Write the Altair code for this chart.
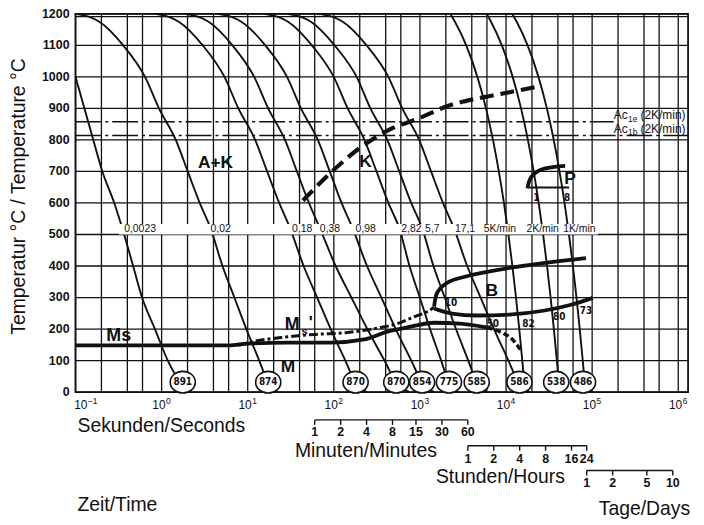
import altair as alt
import pandas as pd

INK = "#111111"
FONT = "Liberation Sans, Arial, Helvetica, sans-serif"
NARROW = "Liberation Sans Narrow, DejaVu Sans Condensed, Liberation Sans, sans-serif"

W, H = 617, 381
xs = alt.Scale(type="log", domain=[0.1, 1.3e6], nice=False)
ys = alt.Scale(domain=[0, 1200], nice=False, zero=False)

# ---------------- values ----------------
temp_ticks = [0, 100, 200, 300, 400, 500, 600, 700, 800, 900, 1000, 1100, 1200]
temp_labels = [str(v) for v in temp_ticks]
time_decades = [0.1, 1, 10, 100, 1000, 10000, 100000, 1000000]
time_exponents = ["−1", "0", "1", "2", "3", "4", "5", "6"]
time_grid = [0.1, 0.2, 0.4, 0.6, 1, 2, 4, 6, 10, 20, 40, 60, 100, 200, 400, 600,
             1000, 2000, 4000, 6000, 10000, 20000, 40000, 60000,
             100000, 200000, 400000, 600000, 1000000]
top_double_line = [1191]

# Ac1e / Ac1b dash-dot lines (2 K/min)
ac_sub = ["1e", "1b"]
ac_temp = [858, 814]
ac_end = [1.78e5, 1.3e6]
ac_label_temp = [866, 822]
ac_label_t = [1.78e5, 1.78e5]

# cooling curves (time in s, temperature in degC)
newton_T = [1200, 1190, 1175, 1100, 1000, 900, 800, 700, 600, 520, 400, 300, 200, 100, 30, 0]
c0023_T = [1000, 900, 800, 700, 600, 500, 400, 300, 200, 100, 30, 0]
c0023_t = [0.1, 0.127, 0.161, 0.205, 0.282, 0.367, 0.467, 0.593, 0.837, 1.18, 1.67, 2.18]
c002_t = [0.1, 0.145, 0.189, 0.358, 0.642, 0.931, 1.46, 2.01, 2.77, 3.70, 5.09, 7.0, 9.64, 13.6, 17.3, 22.5]
c018_t = [0.84, 1.21, 1.58, 3.0, 5.37, 7.79, 12.2, 16.8, 23.2, 31.0, 44.6, 64.0, 92.1, 136, 179, 242]
c038_t = [1.86, 2.69, 3.51, 6.65, 11.9, 17.3, 27.1, 37.3, 51.4, 68.8, 105, 160, 245, 387, 531, 757]
c098_t = [4.46, 6.47, 8.43, 16.0, 28.6, 41.5, 65.2, 89.7, 123, 165, 243, 357, 523, 794, 1060, 1462]
c282_t = [15.5, 22.5, 29.4, 55.6, 99.8, 145, 227, 313, 430, 576, 757, 997, 1311, 1765, 2172, 2729]
c57_t = [28.6, 41.5, 54.1, 102, 184, 266, 418, 576, 792, 1060, 1435, 1943, 2623, 3645, 4567, 5880]
c171_t = [67, 97.1, 127, 240, 430, 623, 979, 1347, 1852, 2480, 3540, 5067, 7253, 10660, 13940, 18770]
linear_T = [1200, 1175, 1100, 1000, 900, 800, 700, 600, 500, 400, 300, 200, 100, 30, 0]
k5_t = [2250, 2550, 3450, 4650, 5850, 7050, 8250, 9450, 10650, 11850, 13050, 14250, 15450, 16290, 16650]
k2_t = [5940, 6690, 8940, 11940, 14940, 17940, 20940, 23940, 26940, 29940, 32940, 35940, 38940, 41040, 41940]
k1_t = [11800, 13300, 17800, 23800, 29800, 35800, 41800, 47800, 53800, 59800, 65800, 71800, 77800, 82000, 83800]

curve_labels = ["0,0023", "0,02", "0,18", "0,38", "0,98", "2,82", "5,7", "17,1", "5K/min", "2K/min", "1K/min"]
curve_label_t = [0.367, 3.70, 32.7, 68.8, 179, 607, 1148, 2547, 5503, 17240, 46040]
curve_label_T = 516

hardness = ["891", "874", "870", "870", "854", "775", "585", "586", "538", "486"]
hardness_t = [1.76, 17.3, 179, 531, 1060, 2172, 4567, 14310, 38230, 78310]
hardness_T = 31.5

# transformation lines
k_t = [43.8, 97.1, 204, 453, 1005, 2059, 4947, 8000, 24340]
k_T = [608, 702, 776, 834, 870, 907, 933, 944, 970]
bs_t = [1458, 1538, 1710, 2059, 3234, 7772, 27070, 84840]
bs_T = [271, 306, 328, 346, 365, 387, 409, 425]
bf_t = [1458, 2352, 4567, 10975, 27070, 56950, 102100]
bf_T = [265, 249, 243, 246, 258, 277, 299]
ms_t = [0.1, 5.97, 10.2, 29.4, 92.1, 227, 419, 712, 1458, 2908, 5960]
ms_T = [148, 148, 154, 157, 157, 167, 192, 205, 220, 217, 205]
ms_end_t = [5960, 8873, 11570, 13570, 14700]
ms_end_T = [205, 189, 170, 148, 135]
msp_t = [7.79, 10.2, 24.4, 60.2, 145, 348, 546, 858, 1211, 1458]
msp_T = [148, 157, 173, 183, 189, 205, 217, 239, 255, 268]
ps_t = [17700, 18660, 21320, 27810, 48570]
ps_T = [646, 671, 693, 709, 718]
pf_t = [18660, 54000]
pf_T = [649, 649]

region_text = ["A+K", "K", "M", "B", "P"]
region_t = [4.23, 233, 29.4, 6805, 55450]
region_T = [726, 729, 79, 320, 676]

small_text = ["10", "50", "82", "80", "73", "1", "8"]
small_t = [2291, 6988, 18180, 41400, 84840, 22470, 51210]
small_T = [282, 217, 217, 238, 258, 617, 617]

minutes = [1, 2, 4, 8, 15, 30, 60]
hours = [1, 2, 4, 8, 16, 24]
days = [1, 2, 5, 10]


# ---------------- helpers ----------------
def XQ(f="t"):
    return alt.X(f"{f}:Q", scale=xs, axis=None)


def YQ(f="T"):
    return alt.Y(f"{f}:Q", scale=ys, axis=None)


def line_layer(ts, Ts, **mark):
    df = pd.DataFrame({"t": ts, "T": Ts, "i": list(range(len(ts)))})
    return alt.Chart(df).mark_line(color=INK, **mark).encode(x=XQ(), y=YQ(), order="i:Q")


def text_layer(texts, ts, Ts, **mark):
    df = pd.DataFrame({"s": texts, "t": ts, "T": Ts})
    return alt.Chart(df).mark_text(color=INK, **mark).encode(x=XQ(), y=YQ(), text="s:N")


def caption(txt, px, py, size=19.5, **mark):
    opts = dict(align="left", baseline="alphabetic", font=FONT, fontSize=size, color=INK)
    opts.update(mark)
    return alt.Chart(pd.DataFrame({"s": [txt]})).mark_text(**opts).encode(
        x=alt.value(px), y=alt.value(py), text="s:N")


def sub_axis(values, unit, line_y, label_y):
    secs = [v * unit for v in values]
    df = pd.DataFrame({"t": secs, "lab": [str(v) for v in values]})
    span = pd.DataFrame({"t0": [secs[0]], "t1": [secs[-1]]})
    line = alt.Chart(span).mark_rule(color=INK, strokeWidth=1.4).encode(
        x=alt.X("t0:Q", scale=xs, axis=None), x2="t1:Q", y=alt.value(line_y))
    ticks = alt.Chart(df).mark_rule(color=INK, strokeWidth=1.4).encode(
        x=XQ(), y=alt.value(line_y), y2=alt.value(line_y + 5))
    labels = alt.Chart(df).mark_text(
        color=INK, font=FONT, fontSize=12.5, fontWeight="bold", baseline="alphabetic"
    ).encode(x=XQ(), y=alt.value(label_y), text="lab:N")
    return [line, ticks, labels]


# ---------------- layers ----------------
layers = []

# grid
layers.append(alt.Chart(pd.DataFrame({"T": temp_ticks + top_double_line})).mark_rule(
    color=INK, strokeWidth=1.3).encode(y=YQ()))
layers.append(alt.Chart(pd.DataFrame({"t": time_grid})).mark_rule(
    color=INK, strokeWidth=1.3).encode(x=XQ()))

# axis labels (placed through the scales)
layers.append(alt.Chart(pd.DataFrame({"T": temp_ticks, "s": temp_labels})).mark_text(
    color=INK, font=FONT, fontSize=12.5, fontWeight="bold", align="right", baseline="middle"
).encode(y=YQ(), x=alt.value(-6), text="s:N"))
tdf = pd.DataFrame({"t": time_decades, "e": time_exponents,
                    "dx": [12] + [4] * (len(time_decades) - 1)})
for k in range(len(time_decades)):
    row = tdf.iloc[k:k + 1]
    d = float(row["dx"].iloc[0])
    layers.append(alt.Chart(row).mark_text(
        color=INK, font=FONT, fontSize=12, align="right", baseline="alphabetic", dx=d, text="10"
    ).encode(x=XQ(), y=alt.value(H + 17)))
    layers.append(alt.Chart(row).mark_text(
        color=INK, font=FONT, fontSize=8.5, align="left", baseline="alphabetic", dx=d + 0.5, dy=-5
    ).encode(x=XQ(), y=alt.value(H + 17), text="e:N"))
layers.append(caption("Temperatur °C / Temperature °C", -51, 184, align="center", angle=270))
layers.append(caption("Sekunden/Seconds", 2, H + 40))

ac_df = pd.DataFrame({"T": ac_temp, "t0": [0.1, 0.1], "t1": ac_end})
layers.append(alt.Chart(ac_df).mark_rule(color=INK, strokeWidth=1.5, strokeDash=[26, 4, 3, 4]).encode(
    x=alt.X("t0:Q", scale=xs, axis=None), x2="t1:Q", y=YQ()))

# cooling curves
curves = [(c0023_t, c0023_T)] + [(c, newton_T) for c in
                                  [c002_t, c018_t, c038_t, c098_t, c282_t, c57_t, c171_t]] + \
         [(c, linear_T) for c in [k5_t, k2_t, k1_t]]
rows = []
for n, (ts, Ts) in enumerate(curves):
    for i, (t, T) in enumerate(zip(ts, Ts)):
        rows.append({"curve": n, "i": i, "t": t, "T": T})
layers.append(alt.Chart(pd.DataFrame(rows)).mark_line(
    color=INK, strokeWidth=1.9, interpolate="monotone").encode(
    x=XQ(), y=YQ(), detail="curve:N", order="i:Q"))

# transformation lines
layers.append(line_layer(k_t, k_T, strokeWidth=4.2, strokeDash=[14, 7], interpolate="monotone"))
layers.append(line_layer(ms_t, ms_T, strokeWidth=3.8, interpolate="monotone"))
layers.append(line_layer(ms_end_t, ms_end_T, strokeWidth=3.4, strokeDash=[6, 3], interpolate="monotone"))
layers.append(line_layer(msp_t, msp_T, strokeWidth=3.0, strokeDash=[9, 3, 3, 3], interpolate="monotone"))
layers.append(line_layer(bs_t, bs_T, strokeWidth=3.8, interpolate="monotone"))
layers.append(line_layer(bf_t, bf_T, strokeWidth=3.8, interpolate="monotone"))
layers.append(line_layer(ps_t, ps_T, strokeWidth=3.8, interpolate="monotone"))
layers.append(line_layer(pf_t, pf_T, strokeWidth=2.0))

# white band behind the cooling parameter labels
band = pd.DataFrame({"t0": [0.32], "t1": [1.17e5], "T0": [500], "T1": [533]})
layers.append(alt.Chart(band).mark_rect(color="white").encode(
    x=alt.X("t0:Q", scale=xs, axis=None), x2="t1:Q", y=YQ("T0"), y2="T1:Q"))
layers.append(text_layer(curve_labels, curve_label_t, [curve_label_T] * len(curve_labels),
                         align="left", baseline="middle", font=FONT, fontSize=10.5))

# hardness circles
hdf = pd.DataFrame({"s": hardness, "t": hardness_t, "T": [hardness_T] * len(hardness)})
ellipse = "M -1 0 A 1 0.86 0 1 1 1 0 A 1 0.86 0 1 1 -1 0 Z"
layers.append(alt.Chart(hdf).mark_point(
    shape=ellipse, size=640, filled=True, fill="white", stroke=INK, strokeWidth=1.6,
    opacity=1, fillOpacity=1).encode(x=XQ(), y=YQ()))
layers.append(alt.Chart(hdf).mark_text(
    color=INK, font=NARROW, fontSize=10, fontWeight="bold", baseline="middle").encode(
    x=XQ(), y=YQ(), text="s:N"))

# region labels
layers.append(text_layer(region_text, region_t, region_T, font=FONT, fontSize=17.5,
                         fontWeight="bold", baseline="middle"))
layers.append(text_layer(["Ms"], [0.228], [161], font=FONT, fontSize=18, fontWeight="bold",
                         align="left", baseline="alphabetic"))
layers.append(text_layer(["M"], [27.0], [198], font=FONT, fontSize=18, fontWeight="bold",
                         align="left", baseline="alphabetic"))
layers.append(text_layer(["s"], [42.0], [182], font=FONT, fontSize=11, fontWeight="bold",
                         align="left", baseline="alphabetic"))
layers.append(text_layer(["'"], [51.0], [203], font=FONT, fontSize=17, fontWeight="bold",
                         align="left", baseline="alphabetic"))
layers.append(text_layer(small_text, small_t, small_T, font=NARROW, fontSize=10,
                         fontWeight="bold", baseline="middle"))

# Ac labels
acl = pd.DataFrame({"t": ac_label_t, "T": ac_label_temp, "sub": ac_sub})
layers.append(alt.Chart(acl).mark_text(color=INK, font=FONT, fontSize=12, align="left",
                                       baseline="alphabetic", text="Ac").encode(x=XQ(), y=YQ()))
layers.append(alt.Chart(acl).mark_text(color=INK, font=FONT, fontSize=8.5, align="left",
                                       baseline="alphabetic", dx=14.5, dy=2.5).encode(
    x=XQ(), y=YQ(), text="sub:N"))
layers.append(alt.Chart(acl).mark_text(color=INK, font=FONT, fontSize=12, align="left",
                                       baseline="alphabetic", dx=27, text="(2K/min)").encode(
    x=XQ(), y=YQ()))

# secondary time axes below the plot
layers += sub_axis(minutes, 60, 409, 425)
layers += sub_axis(hours, 3600, 435, 452)
layers += sub_axis(days, 86400, 460, 477)
layers.append(caption("Minuten/Minutes", 221, 446))
layers.append(caption("Stunden/Hours", 363, 473))
layers.append(caption("Tage/Days", 527, 505))
layers.append(caption("Zeit/Time", 2, 501))

chart = alt.layer(*layers).properties(
    width=W, height=H,
    autosize=alt.AutoSizeParams(type="none"),
    padding={"left": 68, "top": 4, "right": 8, "bottom": 132},
).configure_view(stroke=INK, strokeWidth=1.8)

chart.save("out.html", embed_options={"renderer": "svg", "actions": False})
